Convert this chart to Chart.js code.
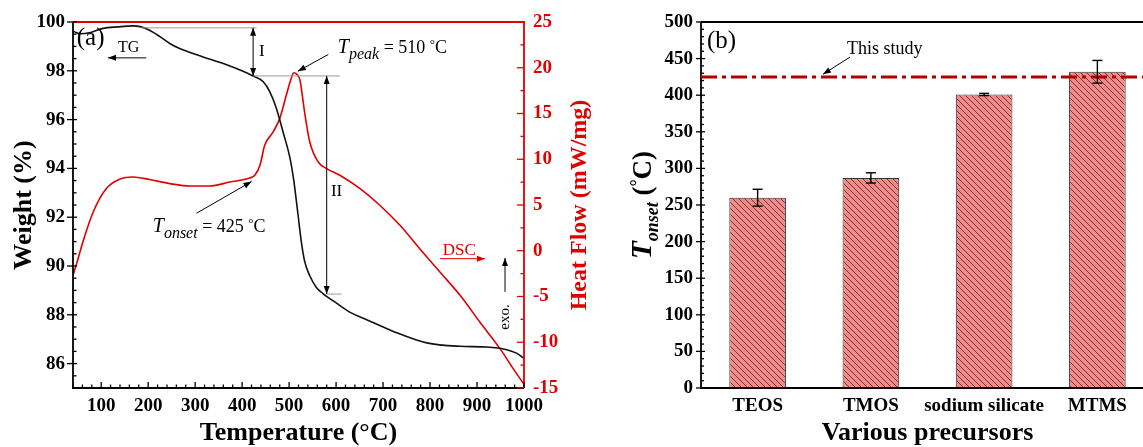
<!DOCTYPE html>
<html>
<head>
<meta charset="utf-8">
<script src="https://cdn.jsdelivr.net/npm/chart.js@4/dist/chart.umd.min.js"></script>
<style>
  html, body { margin: 0; padding: 0; background: #fff; overflow: hidden; }
  #wrap { position: relative; width: 1143px; height: 447px; overflow: hidden; }
  #tg { position: absolute; left: 0; top: 0; }
  #bars { position: absolute; left: 600px; top: 0; }
</style>
</head>
<body>
<div id="wrap">
  <canvas id="tg" width="600" height="447"></canvas>
  <canvas id="bars" width="560" height="447"></canvas>
</div>
<script>
// (a) TG curve, weight % vs temperature
const tgTemp   = [40, 55, 75, 104, 135, 168, 185, 203, 225, 246, 267, 317, 360, 402, 423, 445, 459, 473, 487, 502, 510, 519, 526, 533, 544, 558, 572, 601, 630, 665, 722, 793, 864, 921, 963, 985, 1000];
const tgWeight = [99.62, 99.52, 99.56, 99.74, 99.8, 99.84, 99.8, 99.66, 99.4, 99.12, 98.91, 98.57, 98.3, 97.98, 97.79, 97.55, 97.14, 96.46, 95.5, 94.41, 93.5, 92.1, 91.0, 90.2, 89.6, 89.12, 88.87, 88.48, 88.1, 87.8, 87.32, 86.85, 86.71, 86.68, 86.57, 86.42, 86.22];

// (a) DSC curve, heat flow vs temperature
const dscTemp = [40, 50, 61, 83, 111, 139, 168, 203, 246, 289, 331, 374, 416, 427, 438, 448, 466, 480, 494, 503, 510, 516, 523, 528, 534, 544, 562, 580, 608, 651, 693, 736, 778, 821, 864, 906, 949, 977, 1000];
const dscHeat = [-2.68, -1.0, 0.96, 4.23, 6.79, 7.81, 8.06, 7.78, 7.34, 7.08, 7.08, 7.51, 7.95, 8.25, 9.34, 11.52, 12.98, 14.44, 16.99, 18.6, 19.45, 19.3, 18.7, 17.0, 14.8, 11.89, 9.7, 8.98, 8.25, 6.79, 4.97, 2.78, 0.23, -2.32, -4.87, -7.79, -10.7, -12.88, -14.6];

// (b) onset temperature of the precursors
const precursors = ['TEOS', 'TMOS', 'sodium silicate', 'MTMS'];
const onsetTemp  = [260, 287, 401, 432];
const onsetErr   = [11.5, 7, 1.5, 15.5];
const thisStudy  = 425;

// tick labels
const tempTicks   = [100, 200, 300, 400, 500, 600, 700, 800, 900, 1000];
const weightTicks = [86, 88, 90, 92, 94, 96, 98, 100];
const heatTicks   = [-15, -10, -5, 0, 5, 10, 15, 20, 25];
const onsetTicks  = [0, 50, 100, 150, 200, 250, 300, 350, 400, 450, 500];

const RED = '#e00000';
const SERIF = '"Liberation Serif", "Times New Roman", serif';

// small drawing helpers
function seg(ctx, x1, y1, x2, y2) {
  ctx.beginPath(); ctx.moveTo(x1, y1); ctx.lineTo(x2, y2); ctx.stroke();
}
function head(ctx, x1, y1, x2, y2) {
  const a = Math.atan2(y2 - y1, x2 - x1), len = 8, half = 3;
  ctx.beginPath();
  ctx.moveTo(x2, y2);
  ctx.lineTo(x2 - len * Math.cos(a) + half * Math.sin(a), y2 - len * Math.sin(a) - half * Math.cos(a));
  ctx.lineTo(x2 - len * Math.cos(a) - half * Math.sin(a), y2 - len * Math.sin(a) + half * Math.cos(a));
  ctx.closePath(); ctx.fill();
}
function arrow(ctx, x1, y1, x2, y2, both) {
  seg(ctx, x1, y1, x2, y2);
  head(ctx, x1, y1, x2, y2);
  if (both) head(ctx, x2, y2, x1, y1);
}
function richWidth(ctx, parts) {
  let w = 0;
  for (const p of parts) { ctx.font = p.f; w += ctx.measureText(p.t).width; }
  return w;
}
function rich(ctx, parts, x, y) {
  let cx = x;
  for (const p of parts) {
    ctx.font = p.f;
    ctx.fillText(p.t, cx, y + (p.dy || 0));
    cx += ctx.measureText(p.t).width;
  }
}
function steps(from, to, step) {
  const r = [];
  for (let v = from; v <= to + 1e-9; v += step) r.push(+v.toFixed(6));
  return r;
}
// ticks on a vertical axis; dir = +1 when the plot is to the right of the axis
function vTicks(ctx, scale, xAxis, dir, values, lenIn, lenOut) {
  for (const v of values) {
    const p = scale.getPixelForValue(v);
    seg(ctx, xAxis - dir * lenOut, p, xAxis + dir * lenIn, p);
  }
}
function hTicks(ctx, scale, yAxis, values, lenIn, lenOut) {
  for (const v of values) {
    const p = scale.getPixelForValue(v);
    seg(ctx, p, yAxis + lenOut, p, yAxis - lenIn);
  }
}

const tickFont = { family: SERIF, size: 19, weight: 'bold' };
const plain = v => String(v);

// frame, ticks, titles and notes of panel (a)
const tgDecor = {
  id: 'tgDecor',
  afterDatasetsDraw(chart) {
    const { ctx, chartArea: a, scales: { x, y, y1 } } = chart;
    const px = t => x.getPixelForValue(t), py = w => y.getPixelForValue(w);
    ctx.save();
    ctx.lineWidth = 1.8;
    ctx.strokeStyle = '#000';
    seg(ctx, a.left, a.top, a.left, a.bottom);
    seg(ctx, a.left - 1, a.bottom, a.right, a.bottom);
    ctx.strokeStyle = RED;
    seg(ctx, a.left, a.top, a.right + 1, a.top);
    seg(ctx, a.right, a.top, a.right, a.bottom);

    ctx.lineWidth = 1.3;
    ctx.strokeStyle = '#000';
    hTicks(ctx, x, a.bottom, tempTicks, 6, 0);
    hTicks(ctx, x, a.bottom, steps(40, 1000, 20).filter(v => v % 100), 3.5, 0);
    vTicks(ctx, y, a.left, 1, weightTicks, 4, 6);
    vTicks(ctx, y, a.left, 1, steps(85.5, 100, 0.5).filter(v => v % 2), 3.5, 0);
    ctx.strokeStyle = RED;
    vTicks(ctx, y1, a.right, -1, heatTicks, 7, 0);
    vTicks(ctx, y1, a.right, -1, steps(-12.5, 25, 5), 3.5, 0);

    // step lines and the two loss stages
    ctx.strokeStyle = '#999'; ctx.lineWidth = 1;
    seg(ctx, px(185), py(99.76), px(431), py(99.76));
    seg(ctx, px(423), py(97.79), px(608), py(97.79));
    seg(ctx, px(580), py(88.85), px(612), py(88.85));
    ctx.strokeStyle = '#000'; ctx.fillStyle = '#000';
    arrow(ctx, px(423.4), py(99.76), px(423.4), py(97.79), true);
    arrow(ctx, px(580), py(97.79), px(580), py(88.85), true);

    ctx.textAlign = 'center'; ctx.textBaseline = 'middle';
    ctx.font = '17px ' + SERIF;
    ctx.fillText('I', px(442), py(98.77));
    ctx.fillText('II', px(601), py(93.05));

    ctx.textAlign = 'left'; ctx.textBaseline = 'alphabetic';
    ctx.font = '25px ' + SERIF;
    ctx.fillText('(a)', px(48), py(99.05));
    ctx.font = '16px ' + SERIF;
    ctx.fillText('TG', px(136), py(98.76));
    arrow(ctx, px(196), py(98.53), px(114.5), py(98.53));

    const it = 'italic 20px ' + SERIF, sub = 'italic 16px ' + SERIF, rm = '18px ' + SERIF, deg = '13px ' + SERIF;
    rich(ctx, [{ t: 'T', f: it }, { t: 'peak', f: sub, dy: 6 }, { t: ' = 510 ', f: rm }, { t: '°', f: deg, dy: -5 }, { t: 'C', f: rm }], px(603.8), py(98.71));
    arrow(ctx, px(583.5), py(98.67), px(518.6), py(97.98));
    rich(ctx, [{ t: 'T', f: it }, { t: 'onset', f: sub, dy: 6 }, { t: ' = 425 ', f: rm }, { t: '°', f: deg, dy: -5 }, { t: 'C', f: rm }], px(209.8), py(91.41));
    arrow(ctx, px(302.8), py(92.16), px(420), py(93.46));

    ctx.fillStyle = RED; ctx.strokeStyle = RED;
    ctx.font = '17px ' + SERIF;
    ctx.fillText('DSC', px(827), py(90.46));
    arrow(ctx, px(821), py(90.3), px(917), py(90.3));

    ctx.fillStyle = '#000'; ctx.strokeStyle = '#000';
    arrow(ctx, px(959.6), py(88.94), px(959.6), py(90.33));
    ctx.save();
    ctx.translate(px(959.6), py(87.39));
    ctx.rotate(-Math.PI / 2);
    ctx.textBaseline = 'middle';
    ctx.font = '15px ' + SERIF;
    ctx.fillText('exo.', 0, 0);
    ctx.restore();

    // axis titles
    const midY = (a.top + a.bottom) / 2;
    ctx.textAlign = 'center';
    ctx.font = 'bold 26px ' + SERIF;
    ctx.fillText('Temperature (°C)', (a.left + a.right) / 2, 440);
    ctx.save();
    ctx.translate(24, midY); ctx.rotate(-Math.PI / 2);
    ctx.textBaseline = 'middle';
    ctx.fillText('Weight (%)', 0, 0);
    ctx.restore();
    ctx.save();
    ctx.translate(580, midY); ctx.rotate(-Math.PI / 2);
    ctx.textBaseline = 'middle'; ctx.fillStyle = RED;
    ctx.font = 'bold 24px ' + SERIF;
    ctx.fillText('Heat Flow (mW/mg)', 0, 0);
    ctx.restore();
    ctx.restore();
  }
};

new Chart(document.getElementById('tg'), {
  type: 'line',
  data: {
    datasets: [
      {
        label: 'TG',
        data: tgTemp.map((t, i) => ({ x: t, y: tgWeight[i] })),
        yAxisID: 'y',
        borderColor: '#111',
        borderWidth: 1.6,
        pointRadius: 0,
        cubicInterpolationMode: 'monotone',
        fill: false
      },
      {
        label: 'DSC',
        data: dscTemp.map((t, i) => ({ x: t, y: dscHeat[i] })),
        yAxisID: 'y1',
        borderColor: RED,
        borderWidth: 1.6,
        pointRadius: 0,
        cubicInterpolationMode: 'monotone',
        fill: false
      }
    ]
  },
  options: {
    responsive: false,
    animation: false,
    layout: { padding: { top: 22, left: 0, right: 0, bottom: 0 } },
    plugins: { legend: { display: false }, tooltip: { enabled: false } },
    scales: {
      x: {
        type: 'linear', min: 40, max: 1000,
        grid: { display: false, drawTicks: false }, border: { display: false },
        afterBuildTicks: s => { s.ticks = tempTicks.map(v => ({ value: v })); },
        afterFit: s => { s.height = 59; },
        ticks: { color: '#000', font: tickFont, padding: 7, maxRotation: 0, autoSkip: false, callback: plain }
      },
      y: {
        min: 85, max: 100,
        grid: { display: false, drawTicks: false }, border: { display: false },
        afterBuildTicks: s => { s.ticks = weightTicks.map(v => ({ value: v })); },
        afterFit: s => { s.width = 73; },
        ticks: { color: '#000', font: tickFont, padding: 8, callback: plain }
      },
      y1: {
        position: 'right', min: -15, max: 25,
        grid: { display: false, drawTicks: false }, border: { display: false },
        afterBuildTicks: s => { s.ticks = heatTicks.map(v => ({ value: v })); },
        afterFit: s => { s.width = 76; },
        ticks: { color: RED, font: tickFont, padding: 9, callback: plain }
      }
    }
  },
  plugins: [tgDecor]
});

// hatched salmon fill for the bars
const hatch = (() => {
  const c = document.createElement('canvas');
  c.width = 6; c.height = 6;
  const g = c.getContext('2d');
  g.fillStyle = '#f28a8a';
  g.fillRect(0, 0, 6, 6);
  g.strokeStyle = '#4d2626';
  g.lineWidth = 0.8;
  g.beginPath();
  g.moveTo(0, 0); g.lineTo(6, 6);
  g.moveTo(-3, 3); g.lineTo(3, 9);
  g.moveTo(3, -3); g.lineTo(9, 3);
  g.stroke();
  return g.createPattern(c, 'repeat');
})();

// frame, error bars, reference line and titles of panel (b)
const barDecor = {
  id: 'barDecor',
  afterDatasetsDraw(chart) {
    const { ctx, chartArea: a, scales: { x, y } } = chart;
    ctx.save();
    ctx.lineWidth = 1.8; ctx.strokeStyle = '#000';
    seg(ctx, a.left, a.top, a.left, a.bottom);
    seg(ctx, a.left - 1, a.bottom, a.right, a.bottom);
    seg(ctx, a.left, a.top, a.right, a.top);
    ctx.lineWidth = 1.3;
    vTicks(ctx, y, a.left, 1, onsetTicks, 4, 5);
    vTicks(ctx, y, a.left, 1, steps(10, 500, 10).filter(v => v % 50), 3, 0);

    // this study
    ctx.strokeStyle = '#b00000'; ctx.lineWidth = 3;
    ctx.setLineDash([16, 5, 4, 5]);
    seg(ctx, a.left, y.getPixelForValue(thisStudy), a.right + 20, y.getPixelForValue(thisStudy));
    ctx.setLineDash([]);

    // error bars
    ctx.strokeStyle = '#000'; ctx.lineWidth = 1.4;
    const bars = chart.getDatasetMeta(0).data;
    onsetTemp.forEach((v, i) => {
      const cx = bars[i].x;
      const top = y.getPixelForValue(v + onsetErr[i]), bot = y.getPixelForValue(v - onsetErr[i]);
      seg(ctx, cx, top, cx, bot);
      seg(ctx, cx - 5, top, cx + 5, top);
      seg(ctx, cx - 5, bot, cx + 5, bot);
    });

    ctx.fillStyle = '#000'; ctx.lineWidth = 1;
    ctx.font = '25px ' + SERIF;
    ctx.fillText('(b)', x.getPixelForValue(-0.447), y.getPixelForValue(464));
    ctx.font = '18px ' + SERIF;
    ctx.fillText('This study', x.getPixelForValue(0.79), y.getPixelForValue(456));
    arrow(ctx, x.getPixelForValue(0.815), y.getPixelForValue(452), x.getPixelForValue(0.577), y.getPixelForValue(428.6));

    // axis titles
    ctx.textAlign = 'center';
    ctx.font = 'bold 26px ' + SERIF;
    ctx.fillText('Various precursors', (a.left + 554) / 2, 440);
    const parts = [
      { t: 'T', f: 'italic bold 29px ' + SERIF },
      { t: 'onset', f: 'italic bold 18px ' + SERIF, dy: 7 },
      { t: ' (', f: 'bold 27px ' + SERIF },
      { t: '°', f: 'bold 18px ' + SERIF, dy: -8 },
      { t: 'C)', f: 'bold 27px ' + SERIF }
    ];
    ctx.textAlign = 'left';
    const w = richWidth(ctx, parts);
    ctx.save();
    ctx.translate(a.left - 50, (a.top + a.bottom) / 2);
    ctx.rotate(-Math.PI / 2);
    rich(ctx, parts, -w / 2, 0);
    ctx.restore();
    ctx.restore();
  }
};

new Chart(document.getElementById('bars'), {
  type: 'bar',
  data: {
    labels: precursors,
    datasets: [{
      label: 'Tonset',
      data: onsetTemp,
      backgroundColor: hatch,
      borderColor: '#333',
      borderWidth: 1,
      barPercentage: 0.5,
      categoryPercentage: 1.0
    }]
  },
  options: {
    responsive: false,
    animation: false,
    layout: { padding: { top: 22, right: 6, left: 0, bottom: 0 } },
    plugins: { legend: { display: false }, tooltip: { enabled: false } },
    scales: {
      x: {
        grid: { display: false, drawTicks: false }, border: { display: false },
        afterFit: s => { s.height = 59; },
        ticks: { color: '#000', font: tickFont, padding: 7, maxRotation: 0, autoSkip: false }
      },
      y: {
        min: 0, max: 500,
        grid: { display: false, drawTicks: false }, border: { display: false },
        afterBuildTicks: s => { s.ticks = onsetTicks.map(v => ({ value: v })); },
        afterFit: s => { s.width = 101; },
        ticks: { color: '#000', font: tickFont, padding: 8, callback: plain }
      }
    }
  },
  plugins: [barDecor]
});
</script>
</body>
</html>
